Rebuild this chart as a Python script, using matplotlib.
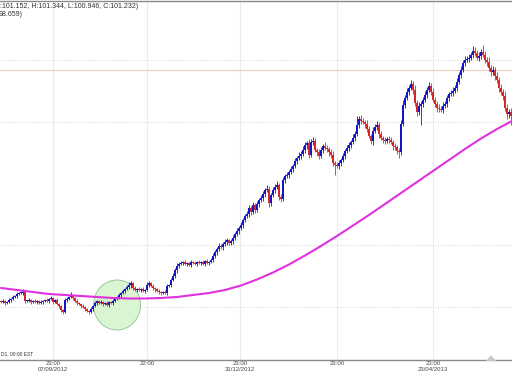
import matplotlib
matplotlib.use("Agg")
import matplotlib.pyplot as plt
from matplotlib.patches import Ellipse

plt.rcParams['font.family'] = ['Liberation Sans', 'DejaVu Sans']

# Daily closes (USDJPY-like), one per bar
closes = [
    78.3, 78.4, 78.2, 78.3, 78.5, 78.6, 78.8, 78.9, 79.1, 79.2,
    79.2, 79.3, 78.4, 78.4, 78.5, 78.3, 78.4, 78.3, 78.4, 78.2,
    78.3, 78.4, 78.5, 78.4, 78.6, 78.7, 78.3, 78.5, 78.1, 77.9,
    77.5, 77.3, 78.5, 78.6, 78.8, 79.0, 78.7, 78.4, 78.2, 78.1,
    77.9, 77.8, 77.6, 77.4, 77.3, 77.6, 77.9, 78.2, 78.4, 78.2,
    78.3, 78.1, 78.2, 78.0, 78.3, 78.2, 78.4, 78.6, 78.8, 79.0,
    79.2, 79.4, 79.6, 79.8, 80.0, 80.2, 79.7, 79.5, 79.6, 79.5,
    79.6, 79.4, 79.5, 80.0, 80.2, 79.9, 79.7, 79.6, 79.4, 79.3,
    79.2, 79.3, 79.2, 79.9, 80.0, 80.5, 80.9, 81.5, 81.9, 82.1,
    82.2, 82.3, 82.1, 82.2, 82.0, 82.3, 82.2, 82.1, 82.3, 82.2,
    82.3, 82.1, 82.4, 82.2, 82.3, 82.5, 82.9, 83.3, 83.6, 83.9,
    83.8, 84.1, 84.3, 84.5, 84.2, 84.4, 84.7, 85.1, 85.4, 85.7,
    86.0, 86.5, 86.9, 87.1, 87.7, 87.3, 88.0, 87.5, 88.1, 88.5,
    88.7, 89.1, 89.5, 89.6, 88.2, 89.0, 89.5, 89.8, 90.0, 88.8,
    88.6, 90.5, 90.9, 91.0, 91.3, 91.6, 91.9, 92.4, 92.7, 92.9,
    93.1, 93.5, 94.0, 94.2, 93.0, 94.3, 94.4, 93.5, 93.3, 92.9,
    93.5, 93.9, 93.7, 93.6, 93.3, 93.0, 92.2, 92.0, 91.9, 92.2,
    92.5, 92.9, 93.4, 93.7, 94.0, 94.3, 94.7, 95.1, 96.0, 96.6,
    96.4, 96.3, 96.1, 95.6, 94.9, 94.4, 95.4, 95.8, 96.0, 95.1,
    94.7, 94.5, 94.4, 94.6, 94.5, 94.3, 93.9, 93.8, 93.4, 93.3,
    96.1, 98.0, 98.7, 99.3, 99.7, 100.1, 99.5, 98.2, 97.3, 97.9,
    98.1, 98.5, 99.0, 99.5, 99.9, 99.3, 98.5, 98.1, 97.7, 97.6,
    97.5, 97.9, 98.1, 98.7, 99.1, 99.2, 99.4, 99.7, 100.3, 101.0,
    101.5, 102.2, 102.5, 102.6, 102.7, 103.0, 103.4, 103.2, 102.7, 102.9,
    103.3, 103.0, 102.5, 102.3, 101.7, 101.3, 101.5, 100.9, 100.5, 99.7,
    99.3, 98.9, 97.7, 97.1, 97.3, 96.9,
]
first_open = 78.4

# Upper / lower shadow lengths per bar, in tenths of a yen
wick_up = [
    1, 2, 1, 1, 2, 1, 2, 1, 2, 1,  2, 3, 1, 1, 2, 1, 1, 2, 1, 1,
    2, 1, 1, 2, 1, 2, 1, 1, 2, 1,  1, 1, 2, 2, 1, 3, 1, 1, 2, 1,
    1, 2, 1, 1, 1, 2, 1, 2, 1, 1,  2, 1, 1, 2, 1, 1, 2, 1, 1, 2,
    1, 2, 1, 2, 3, 2, 1, 2, 1, 2,  1, 2, 1, 3, 2, 1, 2, 1, 1, 2,
    1, 1, 2, 2, 1, 2, 3, 2, 3, 2,  2, 1, 2, 1, 1, 2, 1, 2, 1, 2,
    1, 2, 1, 2, 1, 2, 3, 2, 2, 3,  2, 2, 3, 2, 1, 2, 3, 2, 3, 2,
    3, 2, 2, 3, 3, 2, 3, 2, 3, 2,  3, 3, 2, 4, 3, 2, 3, 3, 4, 2,
    3, 3, 2, 3, 2, 3, 2, 3, 2, 4,  3, 4, 3, 2, 4, 3, 4, 3, 2, 3,
    3, 2, 4, 3, 2, 3, 4, 2, 3, 3,  2, 3, 2, 3, 3, 2, 4, 3, 5, 3,
    4, 3, 2, 4, 3, 2, 4, 3, 4, 3,  3, 2, 3, 2, 3, 3, 2, 3, 2, 3,
    4, 5, 3, 4, 3, 4, 3, 5, 3, 4,  3, 3, 4, 3, 4, 3, 4, 3, 3, 4,
    3, 4, 3, 3, 2, 3, 4, 3, 4, 3,  4, 3, 4, 3, 4, 3, 5, 4, 3, 4,
    3, 0, 4, 3, 5, 3, 4, 3, 4, 3,  4, 3, 5, 4, 3, 4,
]
wick_dn = [
    1, 1, 2, 1, 1, 2, 1, 1, 2, 1,  1, 2, 2, 1, 1, 2, 1, 1, 2, 1,
    1, 2, 1, 1, 2, 1, 2, 1, 1, 2,  2, 0, 1, 2, 1, 1, 2, 1, 2, 1,
    2, 1, 2, 1, 0, 1, 2, 1, 2, 1,  1, 2, 1, 1, 2, 1, 2, 1, 1, 2,
    2, 1, 2, 1, 2, 3, 2, 1, 2, 1,  2, 1, 2, 1, 2, 1, 2, 3, 1, 2,
    2, 1, 1, 2, 1, 2, 1, 2, 3, 2,  1, 2, 1, 2, 1, 2, 1, 1, 2, 1,
    2, 1, 2, 1, 2, 1, 2, 2, 3, 2,  2, 3, 2, 3, 2, 2, 3, 2, 2, 3,
    2, 3, 2, 2, 3, 3, 2, 3, 2, 3,  2, 3, 3, 2, 4, 3, 2, 3, 2, 3,
    3, 2, 3, 2, 3, 2, 3, 2, 3, 2,  3, 2, 3, 4, 3, 2, 3, 2, 4, 3,
    2, 3, 2, 3, 4, 3, 3, 0, 2, 3,  3, 2, 3, 2, 3, 3, 2, 3, 2, 3,
    3, 2, 4, 3, 2, 3, 4, 2, 3, 4,  2, 3, 3, 2, 3, 2, 4, 3, 3, 0,
    3, 2, 3, 2, 3, 2, 4, 3, 4, 3,  0, 3, 2, 3, 2, 3, 2, 3, 4, 3,
    2, 3, 2, 3, 3, 2, 3, 2, 3, 2,  3, 2, 3, 2, 3, 2, 3, 3, 2, 3,
    3, 2, 3, 4, 3, 4, 3, 4, 3, 4,  3, 4, 3, 5, 4, 0,
]

# Notable extreme shadows (bar index -> (high, low)); None keeps the default
extremes = {
    31: (None, 77.1), 44: (None, 77.1), 167: (None, 91.0),
    178: (96.9, None), 199: (None, 92.7), 210: (None, 96.0),
    241: (104.0, None), 255: (None, 96.0),
}

# Moving average (bar index, value)
ma_idx = [0, 8, 16, 24, 32, 40, 48, 56, 64, 72, 80, 88, 96, 104, 112, 120,
          128, 136, 144, 152, 160, 168, 176, 184, 192, 200, 208, 216, 224,
          232, 240, 248, 255.5]
ma_val = [79.7, 79.5, 79.3, 79.1, 79.0, 78.9, 78.8, 78.7, 78.65, 78.65,
          78.7, 78.8, 79.0, 79.2, 79.5, 79.95, 80.55, 81.25, 82.05, 82.95,
          83.9, 84.9, 85.95, 87.0, 88.1, 89.2, 90.3, 91.4, 92.5, 93.6,
          94.65, 95.6, 96.4]

tick_pos = [26, 73, 119.5, 168, 216]
tick_labels = ["23:00\n07/09/2012", "22:00", "23:00\n31/12/2012", "23:00", "23:00\n23/04/2013"]
grid_prices = [102.5, 96.3, 84.0, 77.8]
bid_price = 101.5

UP = "#1414c8"
DN = "#d42828"

W, H = 512, 377
fig = plt.figure(figsize=(W / 100, H / 100), dpi=100)
fig.patch.set_facecolor("white")
ax = fig.add_axes([0, (H - 360) / H, 1, (360 - 1) / H])
ax.set_xlim(-0.5, len(closes) - 0.5)
ax.set_ylim((1085 - 360) / 10, (1085 - 1) / 10)

# grid
for p in grid_prices:
    ax.axhline(p, color="#d8d8d8", lw=0.7, ls=(0, (1, 1.5)), zorder=0)
for t in tick_pos:
    ax.axvline(t, color="#ececec", lw=0.8, zorder=0)
ax.axhline(bid_price, color="#f2c8c8", lw=0.8, zorder=0.5)

# highlight ellipse
ax.add_patch(Ellipse((58, 78.0), 23.5, 5.0, facecolor="#d9f5d2", edgecolor="#9cc89c",
                     lw=0.7, zorder=1))

# candles
opens = [first_open] + closes[:-1]
for i, (o, c) in enumerate(zip(opens, closes)):
    col = UP if c >= o else DN
    hi = max(o, c) + wick_up[i] / 10
    lo = min(o, c) - wick_dn[i] / 10
    if i in extremes:
        h2, l2 = extremes[i]
        if h2 is not None:
            hi = h2
        if l2 is not None:
            lo = l2
    ax.vlines(i, lo, hi, color=col, lw=0.6, zorder=2)
    bottom = min(o, c)
    height = max(abs(c - o), 0.08)
    ax.bar(i, height, bottom=bottom, width=0.8, color=col, lw=0, zorder=2)

# moving average
ax.plot(ma_idx, ma_val, color="#e030e0", lw=1.5, zorder=3, solid_capstyle="round")

# axes styling
for s in ["left", "right"]:
    ax.spines[s].set_visible(False)
ax.spines["bottom"].set_color("#8a8a8a")
ax.spines["bottom"].set_linewidth(1.0)
ax.spines["top"].set_color("#8a8a8a")
ax.spines["top"].set_linewidth(1.0)
ax.set_yticks([])
ax.set_xticks(tick_pos)
ax.set_xticklabels(tick_labels, fontsize=4.3, color="#444444", linespacing=1.15)
ax.tick_params(axis="x", length=0, pad=1.0)

# header texts
fig.text(0 / W, 1 - 6 / H, ":101.152, H:101.344, L:100.946, C:101.232)", fontsize=5.0,
         color="#333333", ha="left", va="center")
fig.text(-1 / W, 1 - 15 / H, "98.659)", fontsize=5.0, color="#333333", ha="left", va="center")
fig.text(1 / W, 1 - 354 / H, "D1, 00:00 EST", fontsize=3.5, color="#333333", ha="left",
         va="center")

# chart shift marker
tri = plt.Polygon([[486 / W, 1 - 361 / H], [496 / W, 1 - 361 / H], [491 / W, 1 - 355 / H]],
                  closed=True, transform=fig.transFigure, facecolor="#c8c8c8",
                  edgecolor="none")
fig.patches.append(tri)

fig.savefig("out.png", dpi=100, facecolor="white")
